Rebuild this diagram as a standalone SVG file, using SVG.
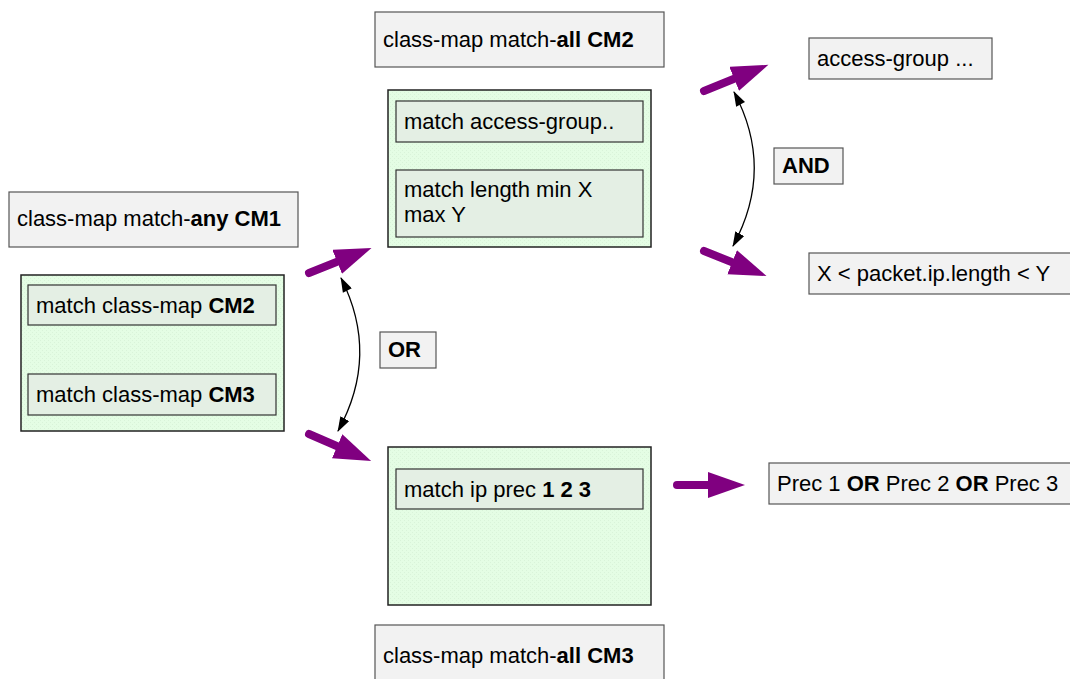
<svg xmlns="http://www.w3.org/2000/svg" width="1070" height="679" viewBox="0 0 1070 679">
  <style>
    text { font-family: "Liberation Sans", Arial, sans-serif; font-size: 22px; fill: #000; }
    .b { font-weight: bold; }
    .label { fill: #f2f2f2; stroke: #555; stroke-width: 1.2; }
    .group { fill: url(#dots); stroke: #222; stroke-width: 1.5; }
    .item { fill: #e4efe4; stroke: #333; stroke-width: 1.2; }
    .flow { stroke: #800080; stroke-width: 8; stroke-linecap: round; fill: none; }
    .logic { stroke: #000; stroke-width: 1.3; fill: none; }
  </style>
  <defs>
    <pattern id="dots" width="4" height="4" patternUnits="userSpaceOnUse">
      <rect width="4" height="4" fill="#e4fde4"/>
      <rect width="1" height="1" fill="#d9f3d9"/>
      <rect x="2" y="2" width="1" height="1" fill="#d9f3d9"/>
    </pattern>
    <marker id="head" markerUnits="userSpaceOnUse" markerWidth="40" markerHeight="30" refX="2" refY="13" orient="auto">
      <path d="M0,0 L37,13 L0,26 Z" fill="#800080"/>
    </marker>
    <marker id="tip" markerUnits="userSpaceOnUse" markerWidth="16" markerHeight="12" refX="14" refY="5" orient="auto">
      <path d="M0,0 L15,5 L0,10 Z" fill="#000"/>
    </marker>
    <marker id="tipStart" markerUnits="userSpaceOnUse" markerWidth="16" markerHeight="12" refX="1" refY="5" orient="auto">
      <path d="M15,0 L0,5 L15,10 Z" fill="#000"/>
    </marker>
  </defs>

  <!-- class-map CM1 (match-any) -->
  <g id="cm1">
    <rect class="label" x="9" y="192" width="289" height="55"/>
    <text x="17" y="226">class-map match-<tspan class="b">any CM1</tspan></text>
    <rect class="group" x="21" y="275" width="263" height="156"/>
    <rect class="item" x="28" y="285" width="248" height="40"/>
    <text x="36" y="313">match class-map <tspan class="b">CM2</tspan></text>
    <rect class="item" x="28" y="374" width="248" height="41"/>
    <text x="36" y="402">match class-map <tspan class="b">CM3</tspan></text>
  </g>

  <!-- class-map CM2 (match-all) -->
  <g id="cm2">
    <rect class="label" x="375" y="12" width="289" height="55"/>
    <text x="383" y="47">class-map match-<tspan class="b">all CM2</tspan></text>
    <rect class="group" x="388" y="90" width="263" height="157"/>
    <rect class="item" x="396" y="101" width="247" height="41"/>
    <text x="404" y="129">match access-group..</text>
    <rect class="item" x="396" y="170" width="247" height="67"/>
    <text x="404" y="197">match length min X</text>
    <text x="404" y="222">max Y</text>
  </g>

  <!-- class-map CM3 (match-all) -->
  <g id="cm3">
    <rect class="group" x="388" y="447" width="263" height="158"/>
    <rect class="item" x="396" y="469" width="247" height="40"/>
    <text x="404" y="497">match ip prec <tspan class="b">1 2 3</tspan></text>
    <rect class="label" x="375" y="625" width="289" height="60"/>
    <text x="383" y="663">class-map match-<tspan class="b">all CM3</tspan></text>
  </g>

  <!-- results -->
  <g id="access-group">
    <rect class="label" x="809" y="38" width="183" height="41"/>
    <text x="817" y="66">access-group ...</text>
  </g>
  <g id="length-range">
    <rect class="label" x="809" y="253" width="265" height="41"/>
    <text x="817" y="281">X &lt; packet.ip.length &lt; Y</text>
  </g>
  <g id="prec-result">
    <rect class="label" x="769" y="463" width="305" height="41"/>
    <text x="777" y="491">Prec 1 <tspan class="b">OR</tspan> Prec 2 <tspan class="b">OR</tspan> Prec 3</text>
  </g>

  <!-- logic operators -->
  <g id="op-and">
    <rect class="label" x="774" y="148" width="69" height="36"/>
    <text class="b" x="782" y="173">AND</text>
  </g>
  <g id="op-or">
    <rect class="label" x="380" y="332" width="56" height="36"/>
    <text class="b" x="388" y="357">OR</text>
  </g>

  <!-- connectors -->
  <g id="connectors">
    <line class="flow" x1="309" y1="273" x2="339" y2="261" marker-end="url(#head)"/>
    <line class="flow" x1="309" y1="434" x2="339" y2="447" marker-end="url(#head)"/>
    <line class="flow" x1="704" y1="91" x2="736" y2="78" marker-end="url(#head)"/>
    <line class="flow" x1="704" y1="251" x2="734" y2="263" marker-end="url(#head)"/>
    <line class="flow" x1="677" y1="485" x2="710" y2="485" marker-end="url(#head)"/>
    <path class="logic" d="M341,278 Q380,355 338,431" marker-start="url(#tipStart)" marker-end="url(#tip)"/>
    <path class="logic" d="M734,92 Q775,169 733,246" marker-start="url(#tipStart)" marker-end="url(#tip)"/>
  </g>
</svg>
